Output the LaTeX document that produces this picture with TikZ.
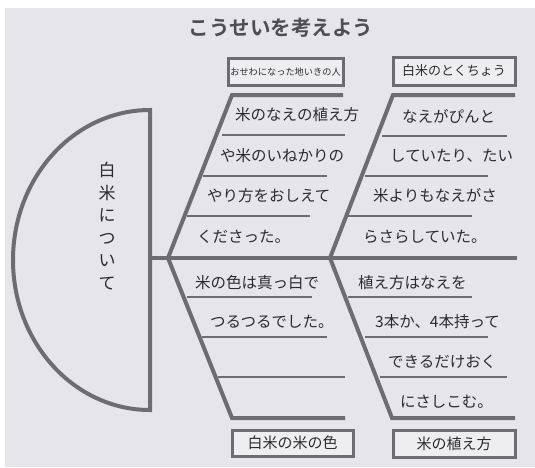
\documentclass[tikz,border=0pt]{standalone}
\usepackage{fontspec}
\newfontfamily\jp{Noto Sans CJK JP}
\newfontfamily\jpb{Noto Sans CJK JP Bold}
\definecolor{bg}{HTML}{E6E6EA}
\definecolor{ln}{HTML}{6C6C71}
\definecolor{ink}{HTML}{2C2C2E}
\definecolor{boxfill}{HTML}{EEEEF0}
\definecolor{ttl}{HTML}{4E4E52}
\tikzset{
  bone/.style={draw=ln, line width=4pt, line cap=rect},
  rule/.style={draw=ln, line width=2pt},
  labelbox/.style={draw=ln, line width=3pt, fill=boxfill, inner sep=0pt},
  hand/.style={text=ink, font=\jp\fontsize{15.5}{15.5}\selectfont, anchor=west, inner sep=0pt},
  boxtext/.style={text=ink, inner sep=0pt},
}
\begin{document}
\begin{tikzpicture}[x=1pt,y=-1pt]
\useasboundingbox (0,0) rectangle (535,467);
\fill[white] (0,0) rectangle (535,467);
\fill[bg] (5,8) rectangle (535,467);

% title
\node[text=ttl, font=\jpb\fontsize{20.5}{20.5}\selectfont] (title) at (281,28) {こうせいを考えよう};

% head (half ellipse)
\coordinate (htop) at (150,110);
\coordinate (hbot) at (150,410);
\draw[draw=ln, line width=4pt] (htop) arc[start angle=270, end angle=90, x radius=137, y radius=150] -- (hbot) -- (htop) -- cycle;
\node[text=ink, font=\jp\fontsize{17}{22.5}\selectfont, align=center, inner sep=0pt] (head) at (107,226) {白\\米\\に\\つ\\い\\て};

% spine and bones
\coordinate (s0) at (150,258);
\coordinate (s1) at (515,258);
\coordinate (ulb) at (168,258);
\coordinate (urb) at (330,258);
\coordinate (ult) at (232,95);
\coordinate (ulr) at (343,95);
\coordinate (urt) at (393,95);
\coordinate (urr) at (515,95);
\coordinate (llt) at (232,418);
\coordinate (llr) at (345,418);
\coordinate (lrt) at (392,418);
\coordinate (lrr) at (515,418);
\draw[bone] (s0) -- (s1);
\draw[bone, line cap=butt] (ulr) -- (ult) -- (ulb);
\draw[bone, line cap=butt] (urr) -- (urt) -- (urb);
\draw[bone, line cap=butt] (ulb) -- (llt) -- (llr);
\draw[bone, line cap=butt] (urb) -- (lrt) -- (lrr);

% writing rules
\draw[rule] (222,135) -- (345,135);
\draw[rule] (203,176) -- (327,176);
\draw[rule] (187,216) -- (310,216);
\draw[rule] (382,136) -- (507,136);
\draw[rule] (365,176) -- (488,176);
\draw[rule] (348,216) -- (472,216);
\draw[rule] (187,297) -- (312,297);
\draw[rule] (202,337) -- (327,337);
\draw[rule] (218,377) -- (345,377);
\draw[rule] (348,297) -- (472,297);
\draw[rule] (365,337) -- (488,337);
\draw[rule] (380,377) -- (507,377);

% label boxes
\draw[labelbox] (228,58) rectangle (343,85);
\node[boxtext, font=\jp\fontsize{9.2}{9.2}\selectfont] (b1) at (285.5,71.5) {おせわになった地いきの人};
\draw[labelbox] (393,57) rectangle (515,85);
\node[boxtext, font=\jp\fontsize{13}{13}\selectfont] (b2) at (454,71) {白米のとくちょう};
\draw[labelbox] (232,430) rectangle (353,456);
\node[boxtext, font=\jp\fontsize{15}{15}\selectfont] (b3) at (292.5,443) {白米の米の色};
\draw[labelbox] (393,430) rectangle (515,457);
\node[boxtext, font=\jp\fontsize{15}{15}\selectfont] (b4) at (454,443.5) {米の植え方};

% handwritten text
\node[hand] (t1) at (235,115) {米のなえの植え方};
\node[hand] (t2) at (220,156) {や米のいねかりの};
\node[hand] (t3) at (207,196) {やり方をおしえて};
\node[hand] (t4) at (197,237) {くださった。};
\node[hand] (t5) at (402,116) {なえがぴんと};
\node[hand] (t6) at (390,156) {していたり、たい};
\node[hand] (t7) at (373,196) {米よりもなえがさ};
\node[hand] (t8) at (363,237) {らさらしていた。};
\node[hand] (t9) at (195,283) {米の色は真っ白で};
\node[hand] (t10) at (210,322) {つるつるでした。};
\node[hand] (t11) at (358,283) {植え方はなえを};
\node[hand] (t12) at (375,322) {3本か、4本持って};
\node[hand] (t13) at (388,362) {できるだけおく};
\node[hand] (t14) at (400,402) {にさしこむ。};
\end{tikzpicture}
\end{document}
